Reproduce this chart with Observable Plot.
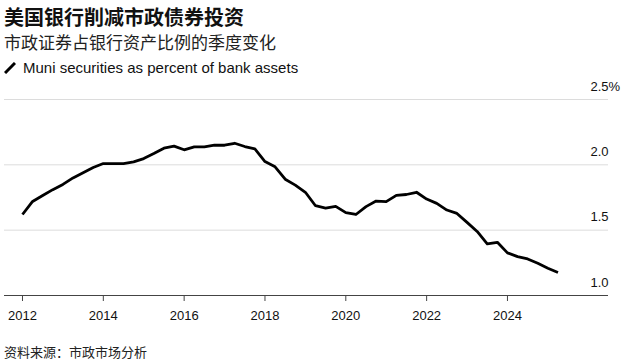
<!DOCTYPE html>
<html>
<head>
<meta charset="utf-8">
<script src="https://cdn.jsdelivr.net/npm/d3@7"></script>
<script src="https://cdn.jsdelivr.net/npm/@observablehq/plot@0.6"></script>
<style>
  html, body { margin: 0; padding: 0; background: #fff; }
  body { width: 625px; height: 364px; position: relative; overflow: hidden; font-family: "Liberation Sans", Arial, sans-serif; color: #111; }
  .abs { position: absolute; left: 4px; white-space: nowrap; }
  #title { top: 5px; font: bold 20px/24px "Noto Sans CJK SC", sans-serif; color: #111; }
  #subtitle { top: 32px; font: 17px/20px "Noto Sans CJK SC", sans-serif; color: #222; }
  #legend { top: 60px; font: 15px/16px "Liberation Sans", Arial, sans-serif; color: #111; display: flex; align-items: center; }
  #legend svg { margin-right: 7px; }
  #chart { position: absolute; top: 78px; left: 0; }
  #source { top: 344px; font: 13px/16px "Noto Sans CJK SC", sans-serif; color: #222; }
</style>
</head>
<body>
<div id="title" class="abs">美国银行削减市政债券投资</div>
<div id="subtitle" class="abs">市政证券占银行资产比例的季度变化</div>
<div id="legend" class="abs"><svg width="12" height="12"><line x1="1" y1="11" x2="11" y2="1" stroke="#000" stroke-width="3"/></svg><span>Muni securities as percent of bank assets</span></div>
<div id="chart"></div>
<div id="source" class="abs">资料来源：市政市场分析</div>
<script>
// Quarterly observations, first quarter of 2012 through second quarter of 2025
const startYear = 2012;
const values = [
  1.62, 1.72, 1.765, 1.81, 1.85, 1.90, 1.94, 1.98,
  2.01, 2.01, 2.01, 2.023, 2.048, 2.086, 2.127, 2.143,
  2.115, 2.137, 2.137, 2.15, 2.15, 2.165, 2.14, 2.122,
  2.025, 1.985, 1.89, 1.845, 1.79, 1.687, 1.669, 1.682,
  1.634, 1.62, 1.68, 1.723, 1.718, 1.766, 1.773, 1.79,
  1.738, 1.705, 1.654, 1.628, 1.56, 1.49, 1.395, 1.407,
  1.326, 1.298, 1.28, 1.247, 1.209, 1.176
];
const xTicks = [2012, 2014, 2016, 2018, 2020, 2022, 2024];
const yTicks = [1.0, 1.5, 2.0, 2.5];
const yTickLabels = ["1.0", "1.5", "2.0", "2.5"];
const ySuffix = "%";

const data = values.map((v, i) => ({date: startYear + i / 4, value: v}));

const chart = Plot.plot({
  width: 625,
  height: 250,
  marginLeft: 4,
  marginRight: 17,
  marginTop: 21,
  marginBottom: 33,
  style: {fontFamily: "'Liberation Sans', Arial, sans-serif", fontSize: "13px", color: "#222", background: "transparent"},
  x: {domain: [2011.555, 2026.5]},
  y: {domain: [1.0, 2.5], axis: null},
  marks: [
    Plot.ruleY(yTicks.filter(d => d > 1.0), {stroke: "#dcdcdc", strokeWidth: 1}),
    Plot.ruleY([1.0], {stroke: "#444", strokeWidth: 1}),
    Plot.axisX({ticks: xTicks, tickFormat: d => String(d), tickSize: 6, tickPadding: 9, stroke: "#444", fill: "#111", fontSize: 13, label: null}),
    Plot.text(yTicks, {y: d => d, text: (d, i) => yTickLabels[i], frameAnchor: "right", textAnchor: "end", lineAnchor: "bottom", dy: -9, fill: "#111", fontSize: 13}),
    Plot.text([2.5], {y: d => d, text: () => ySuffix, frameAnchor: "right", textAnchor: "start", lineAnchor: "bottom", dy: -9, fill: "#111", fontSize: 13}),
    Plot.line(data, {x: "date", y: "value", stroke: "#000", strokeWidth: 2.8, strokeLinejoin: "round", strokeLinecap: "butt"})
  ]
});
document.getElementById("chart").appendChild(chart);
</script>
</body>
</html>
